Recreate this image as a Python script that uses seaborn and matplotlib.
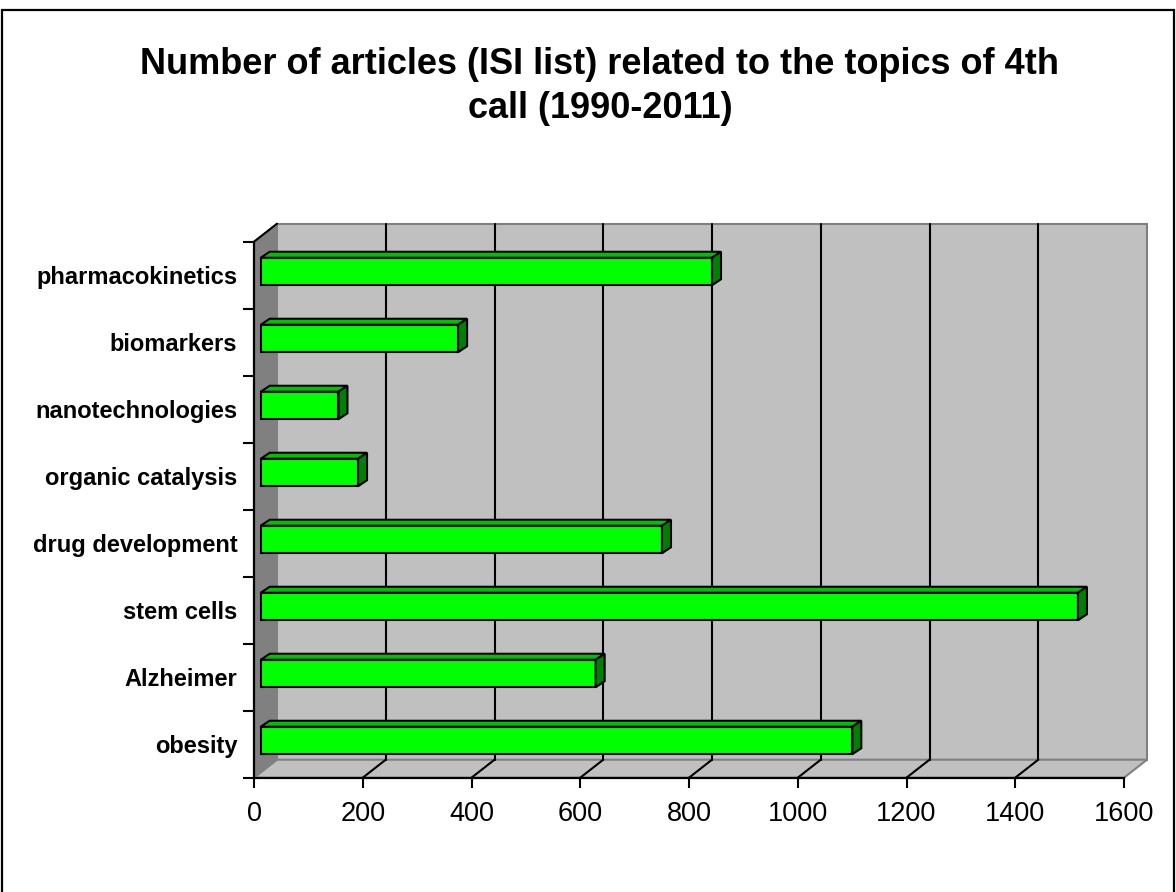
import matplotlib
matplotlib.use("Agg")
import matplotlib.pyplot as plt
from matplotlib.patches import Polygon, Rectangle
from matplotlib.lines import Line2D
import seaborn as sns
import pandas as pd

# ---- data ----
categories = ["pharmacokinetics", "biomarkers", "nanotechnologies", "organic catalysis",
              "drug development", "stem cells", "Alzheimer", "obesity"]
values = [830, 363, 143, 179, 738, 1503, 616, 1088]
xticks = [0, 200, 400, 600, 800, 1000, 1200, 1400, 1600]
title_lines = ["Number of articles (ISI list) related to the topics of 4th", "call (1990-2011)"]

df = pd.DataFrame({"topic": categories, "articles": values})

sns.set_theme(style="white")
plt.rcParams["font.family"] = ["Liberation Sans", "DejaVu Sans"]
plt.rcParams["text.color"] = "black"
plt.rcParams["xtick.color"] = "black"
plt.rcParams["ytick.color"] = "black"
plt.rcParams["xtick.labelcolor"] = "black"
plt.rcParams["ytick.labelcolor"] = "black"

W, H = 1176, 892
fig = plt.figure(figsize=(W / 100, H / 100), dpi=100)
fig.patch.set_facecolor("white")

ax_l, ax_r, ax_t, ax_b = 254, 1124, 241.7, 777.7
ax = fig.add_axes([ax_l / W, (H - ax_b) / H, (ax_r - ax_l) / W, (ax_b - ax_t) / H])
ax.set_facecolor("none")

sns.barplot(data=df, x="articles", y="topic", order=categories, orient="h",
            color="#00ff00", edgecolor="black", linewidth=1.5, width=0.41,
            saturation=1, ax=ax, zorder=3)

xmax = xticks[-1]
n = len(categories)
ax.set_xlim(0, xmax)
ax.set_ylim(n - 0.5, -0.5)

sx = xmax / (ax_r - ax_l)
sy = n / (ax_b - ax_t)
DX, DY = 23 * sx, -18 * sy         # wall depth
bx, by = 9 * sx, -6 * sy           # bar depth
shx, shy = 6.7 * sx, -3.7 * sy     # bar front-face offset

ybot, ytop = n - 0.5, -0.5
wall_gray = "#c0c0c0"
edge_gray = "#808080"

# back wall
ax.add_patch(Polygon([(DX, ybot + DY), (xmax + DX, ybot + DY), (xmax + DX, ytop + DY), (DX, ytop + DY)],
                     closed=True, facecolor=wall_gray, edgecolor=edge_gray, lw=1.5,
                     clip_on=False, zorder=0.1))
# side wall
ax.add_patch(Polygon([(0, ybot), (DX, ybot + DY), (DX, ytop + DY), (0, ytop)],
                     closed=True, facecolor=edge_gray, edgecolor=edge_gray, lw=1.0,
                     clip_on=False, zorder=0.15))
# floor
ax.add_patch(Polygon([(0, ybot), (xmax, ybot), (xmax + DX, ybot + DY), (DX, ybot + DY)],
                     closed=True, facecolor=wall_gray, edgecolor=edge_gray, lw=1.5,
                     clip_on=False, zorder=0.12))
# grid lines on back wall and floor
for xv in xticks[1:-1]:
    ax.add_line(Line2D([xv + DX, xv + DX], [ybot + DY, ytop + DY], color="black", lw=1.5,
                       clip_on=False, zorder=0.3))
    ax.add_line(Line2D([xv, xv + DX], [ybot, ybot + DY], color="black", lw=1.5,
                       clip_on=False, zorder=0.3))
# top edge of side wall
ax.add_line(Line2D([0, DX], [ytop, ytop + DY], color="black", lw=1.5, clip_on=False, zorder=0.4))

# 3D faces of bars
for p in ax.patches:
    if not isinstance(p, Rectangle):
        continue
    if p.get_facecolor()[:3] != (0.0, 1.0, 0.0):
        continue
    x0, y0 = p.get_x() + shx, p.get_y() + shy
    w, h = p.get_width(), p.get_height()
    p.set_x(x0)
    p.set_y(y0)
    p.set_clip_on(False)
    ax.add_patch(Polygon([(x0, y0), (x0 + w, y0), (x0 + w + bx, y0 + by), (x0 + bx, y0 + by)],
                         closed=True, facecolor="#00c000", edgecolor="black", lw=1.5,
                         clip_on=False, zorder=3))
    ax.add_patch(Polygon([(x0 + w, y0), (x0 + w + bx, y0 + by), (x0 + w + bx, y0 + h + by), (x0 + w, y0 + h)],
                         closed=True, facecolor="#008000", edgecolor="black", lw=1.5,
                         clip_on=False, zorder=3))

# axes / ticks
for s in ["top", "right"]:
    ax.spines[s].set_visible(False)
for s in ["left", "bottom"]:
    ax.spines[s].set_color("black")
    ax.spines[s].set_linewidth(1.6)
    ax.spines[s].set_zorder(4)

ax.set_xticks(xticks)
ax.set_xticklabels([str(v) for v in xticks], fontsize=19.5, color="black")
ax.set_yticks([i - 0.5 for i in range(n + 1)])
ax.set_yticklabels([])
ax.set_yticks(list(range(n)), minor=True)
ax.set_yticklabels(categories, minor=True, fontsize=17, fontweight="bold", color="black")
ax.tick_params(axis="x", which="major", direction="out", length=7, width=1.5, color="black",
               pad=10, bottom=True)
ax.tick_params(axis="y", which="major", direction="out", length=8, width=1.5, color="black", left=True)
ax.tick_params(axis="y", which="minor", length=0, pad=12, left=True)
ax.set_xlabel("")
ax.set_ylabel("")
ax.grid(False)

# title
for yc, line in zip([65, 108], title_lines):
    fig.text(600 / W, 1 - yc / H, line, ha="center", va="center", fontsize=26,
             fontweight="bold", color="black")

# outer border
fig.add_artist(Rectangle((2 / W, -0.05), (1174 - 2) / W, (H - 10) / H + 0.05,
                         transform=fig.transFigure, fill=False, edgecolor="black", lw=1.6))

fig.savefig("out.png", dpi=100)
